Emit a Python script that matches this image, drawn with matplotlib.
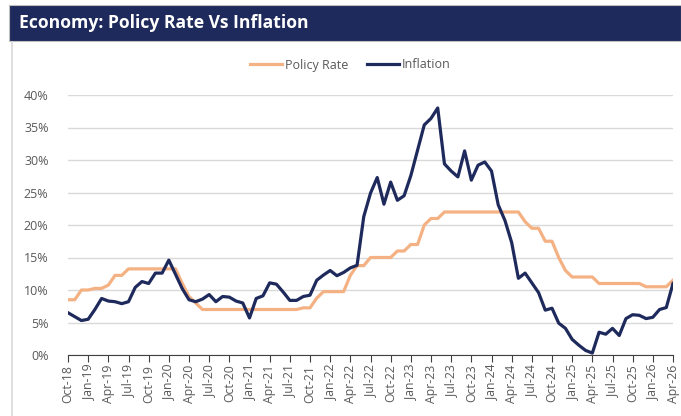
import matplotlib.pyplot as plt
from matplotlib.patches import Rectangle
from matplotlib.lines import Line2D
from matplotlib.ticker import FuncFormatter

# monthly, Oct-18 .. Apr-26
months = ['Oct-18', 'Nov-18', 'Dec-18',
          'Jan-19', 'Feb-19', 'Mar-19', 'Apr-19', 'May-19', 'Jun-19', 'Jul-19', 'Aug-19', 'Sep-19', 'Oct-19', 'Nov-19', 'Dec-19',
          'Jan-20', 'Feb-20', 'Mar-20', 'Apr-20', 'May-20', 'Jun-20', 'Jul-20', 'Aug-20', 'Sep-20', 'Oct-20', 'Nov-20', 'Dec-20',
          'Jan-21', 'Feb-21', 'Mar-21', 'Apr-21', 'May-21', 'Jun-21', 'Jul-21', 'Aug-21', 'Sep-21', 'Oct-21', 'Nov-21', 'Dec-21',
          'Jan-22', 'Feb-22', 'Mar-22', 'Apr-22', 'May-22', 'Jun-22', 'Jul-22', 'Aug-22', 'Sep-22', 'Oct-22', 'Nov-22', 'Dec-22',
          'Jan-23', 'Feb-23', 'Mar-23', 'Apr-23', 'May-23', 'Jun-23', 'Jul-23', 'Aug-23', 'Sep-23', 'Oct-23', 'Nov-23', 'Dec-23',
          'Jan-24', 'Feb-24', 'Mar-24', 'Apr-24', 'May-24', 'Jun-24', 'Jul-24', 'Aug-24', 'Sep-24', 'Oct-24', 'Nov-24', 'Dec-24',
          'Jan-25', 'Feb-25', 'Mar-25', 'Apr-25', 'May-25', 'Jun-25', 'Jul-25', 'Aug-25', 'Sep-25', 'Oct-25', 'Nov-25', 'Dec-25',
          'Jan-26', 'Feb-26', 'Mar-26', 'Apr-26']

policy_rate = [8.5, 8.5, 10.0, 10.0, 10.25, 10.25, 10.75, 12.25, 12.25,
               13.25, 13.25, 13.25, 13.25, 13.25, 13.25, 13.25, 13.25,
               11.0, 9.0, 8.0,
               7.0, 7.0, 7.0, 7.0, 7.0, 7.0, 7.0, 7.0, 7.0, 7.0, 7.0, 7.0, 7.0, 7.0, 7.0,
               7.25, 7.25, 8.75, 9.75, 9.75, 9.75, 9.75,
               12.25, 13.75, 13.75, 15.0, 15.0, 15.0, 15.0, 16.0, 16.0, 17.0, 17.0,
               20.0, 21.0, 21.0,
               22.0, 22.0, 22.0, 22.0, 22.0, 22.0, 22.0, 22.0, 22.0, 22.0, 22.0, 22.0,
               20.5, 19.5, 19.5, 17.5, 17.5, 15.0, 13.0,
               12.0, 12.0, 12.0, 12.0,
               11.0, 11.0, 11.0, 11.0, 11.0, 11.0, 11.0,
               10.5, 10.5, 10.5, 10.5, 11.5]

inflation = [6.5, 5.9, 5.3, 5.5, 7.0, 8.7, 8.3, 8.2, 7.9, 8.2, 10.4, 11.3, 11.0, 12.6, 12.6,
             14.6, 12.4, 10.2, 8.5, 8.2, 8.6, 9.3, 8.2, 9.0, 8.9, 8.3, 8.0,
             5.7, 8.7, 9.1, 11.1, 10.9, 9.7, 8.4, 8.4, 9.0, 9.2, 11.5, 12.3,
             13.0, 12.2, 12.7, 13.4, 13.8, 21.3, 24.9, 27.3, 23.2, 26.6, 23.8, 24.5,
             27.6, 31.5, 35.4, 36.4, 38.0, 29.4, 28.3, 27.4, 31.4, 26.9, 29.2, 29.7,
             28.3, 23.1, 20.7, 17.3, 11.8, 12.6, 11.1, 9.6, 6.9, 7.2, 4.9, 4.1,
             2.4, 1.5, 0.7, 0.3, 3.5, 3.2, 4.1, 3.0, 5.6, 6.2, 6.1, 5.6,
             5.8, 7.0, 7.3, 11.0]

orange = '#F4B183'
navy = '#1F2A5C'
grey_txt = '#595959'

fig = plt.figure(figsize=(6.81, 4.16), dpi=100)

# title bar
W, H = 681, 416
fig.patches.append(Rectangle((9 / W, 1 - 41 / H), 1 - 9 / W, 36 / H, transform=fig.transFigure,
                             facecolor=navy, edgecolor='#BFBFBF', linewidth=0.8))
fig.text(19 / W, 1 - 23 / H, 'Economy: Policy Rate Vs Inflation', color='white',
         fontsize=12.6, fontweight='bold', family='Open Sans', va='center', ha='left')
# panel left border
fig.lines.append(Line2D([12 / W, 12 / W], [0, 1 - 42 / H], transform=fig.transFigure,
                        color='#D9D9D9', linewidth=1.2))

ax = fig.add_axes([68 / W, 1 - 355 / H, (673 - 68) / W, (355 - 95) / H])
x = list(range(len(months)))
ax.plot(x, policy_rate, color=orange, linewidth=2.3, label='Policy Rate', solid_joinstyle='round')
ax.plot(x, inflation, color=navy, linewidth=2.3, label='Inflation', solid_joinstyle='round')

ax.set_xlim(0, len(months) - 1)
ax.set_ylim(0, 40)
ax.set_yticks(range(0, 41, 5))
ax.yaxis.set_major_formatter(FuncFormatter(lambda v, p: f'{v:.0f}%'))
ax.grid(axis='y', color='#D9D9D9', linewidth=1)
ax.set_axisbelow(True)

ax.set_xticks(x[::3])
ax.set_xticklabels(months[::3], rotation=90, fontsize=8.8, color=grey_txt, family='Open Sans')
ax.tick_params(axis='x', length=5, width=0.8, color='#404040', pad=2)
ax.tick_params(axis='y', length=0, labelsize=9, labelcolor=grey_txt, pad=14)
for lab in ax.get_yticklabels():
    lab.set_family('Open Sans')

for s in ['top', 'right', 'left']:
    ax.spines[s].set_visible(False)
ax.spines['bottom'].set_color('#404040')
ax.spines['bottom'].set_linewidth(0.8)

leg = ax.legend(loc='center', bbox_to_anchor=(350 / W, 1 - 65 / H), bbox_transform=fig.transFigure,
                ncol=2, frameon=False, handlelength=2.6, handletextpad=0.2, columnspacing=1.5,
                prop={'family': 'Open Sans', 'size': 9})
for t in leg.get_texts():
    t.set_color(grey_txt)

plt.savefig('out.png', dpi=100)
